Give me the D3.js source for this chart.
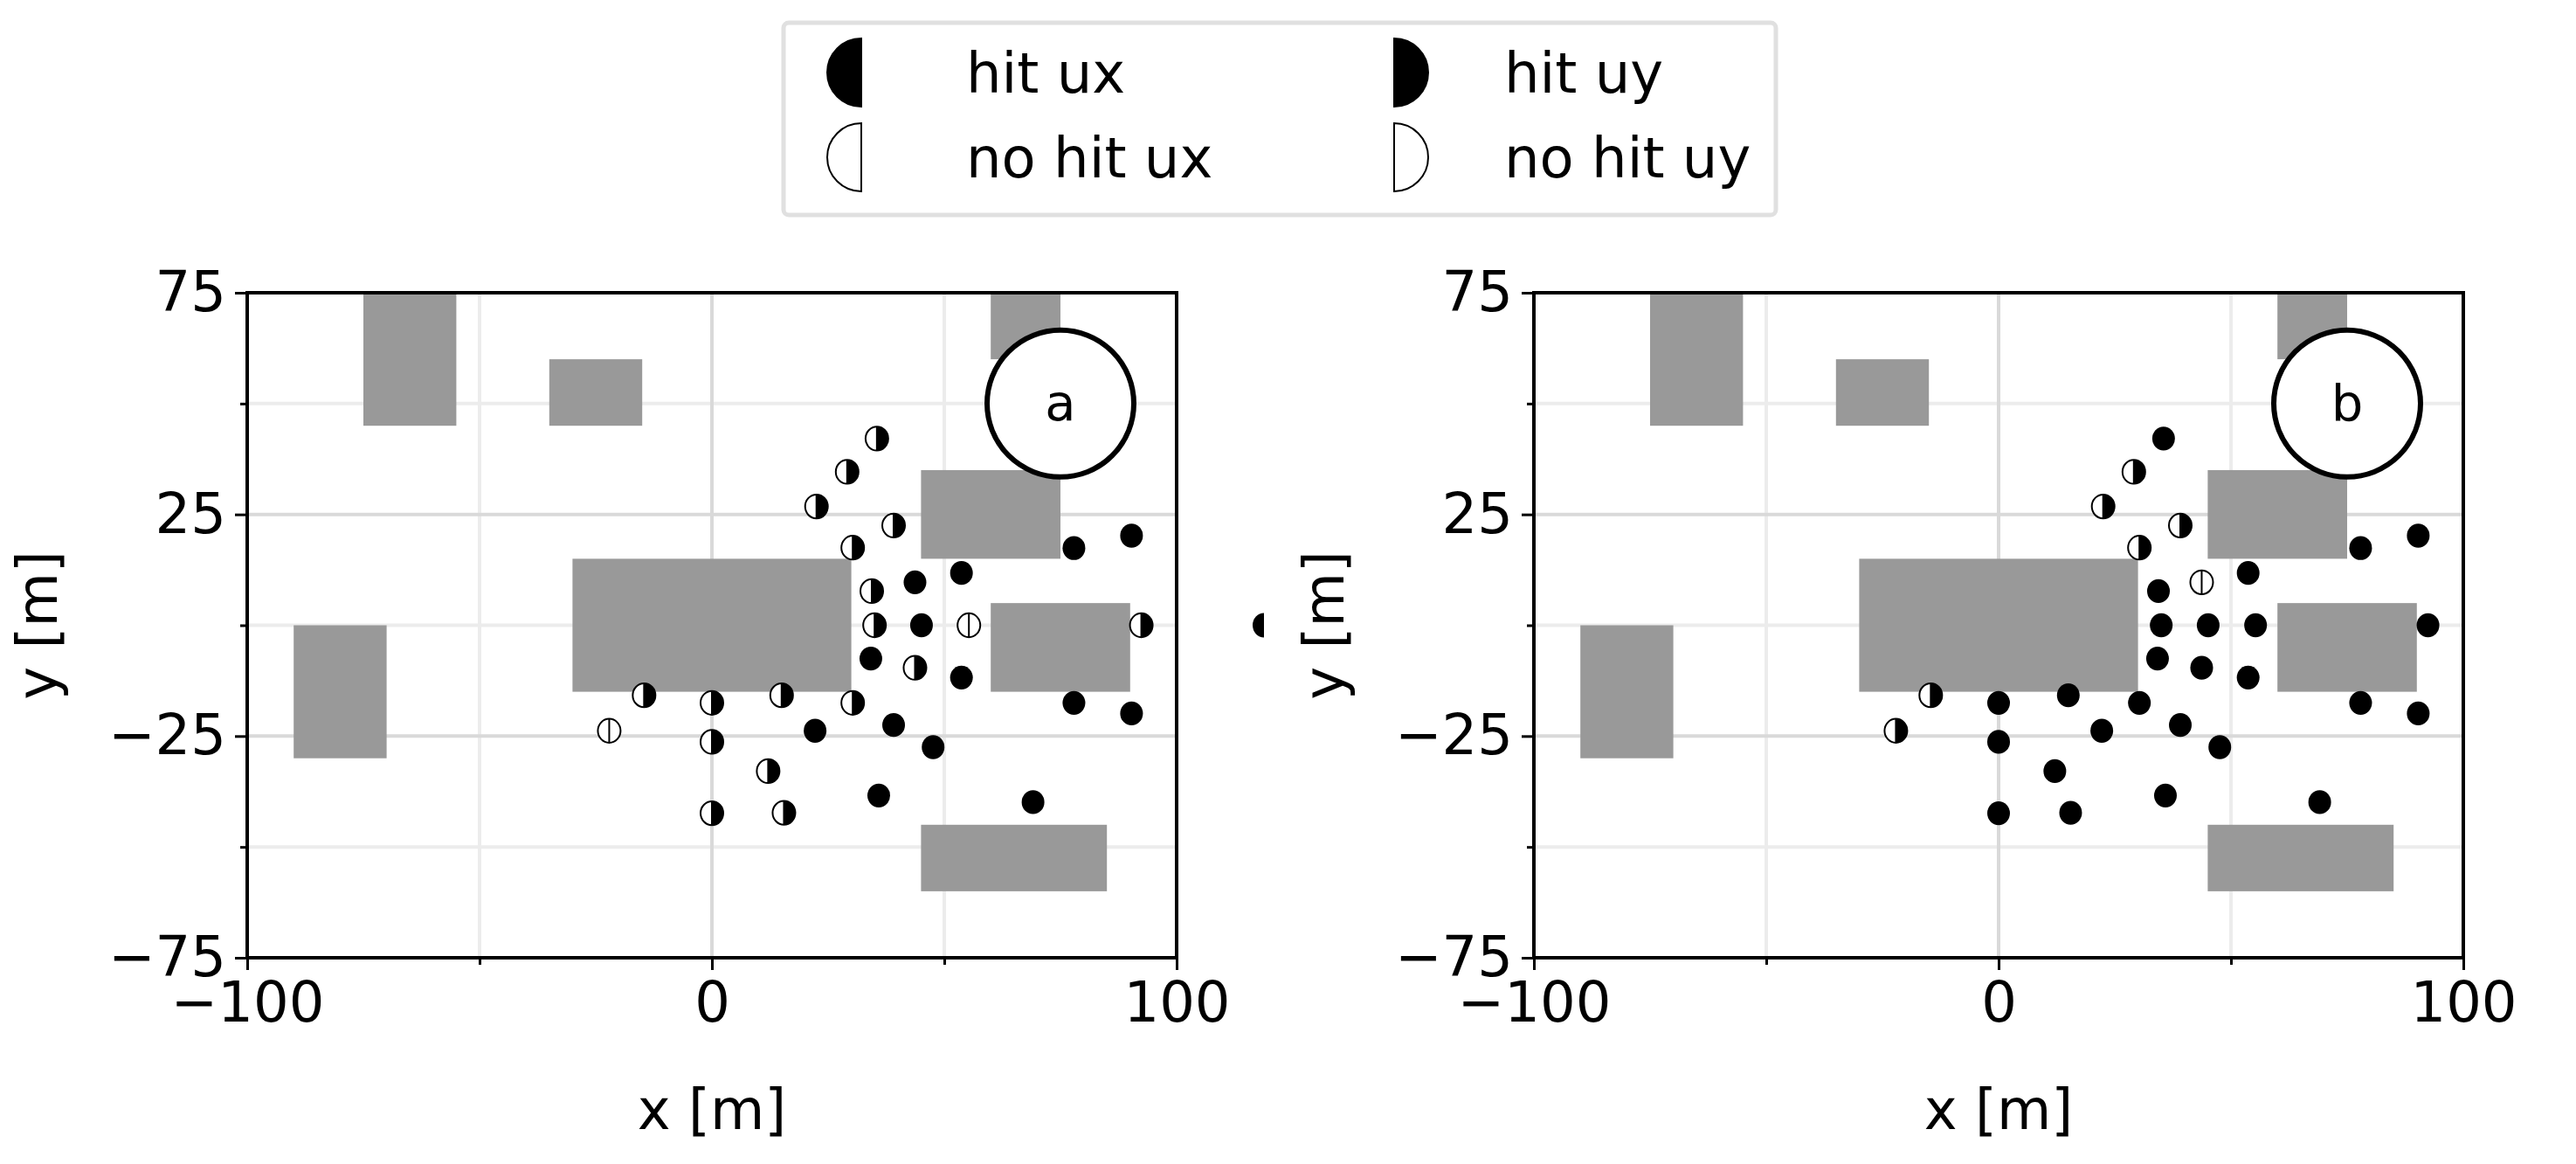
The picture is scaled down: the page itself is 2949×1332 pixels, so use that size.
<!DOCTYPE html>
<html>
<head>
<meta charset="utf-8">
<script src="https://cdn.jsdelivr.net/npm/d3@7"></script>
<style>
  body { margin: 0; background: #fff; }
  text { font-family: "DejaVu Sans", sans-serif; }
</style>
</head>
<body>
<svg id="svg" width="2949" height="1332"></svg>
<script>
// buildings [x0, x1, y0, y1] in metres
var buildings = [
  [-75, -55, 45, 75], [-35, -15, 45, 60], [60, 75, 60, 75], [45, 75, 15, 35],
  [-30, 30, -15, 15], [60, 90, -15, 5], [-90, -70, -30, 0], [45, 85, -60, -45]
];
// sensor positions
var px = [35.5, 29.1, 22.5, 39.1, 30.3, 53.7, 43.7, 34.4, 77.9, 90.3, 35, 45.1, 55.3, 92.4,
          34.2, 43.7, 53.7, -14.6, 0, 15, 30.3, 77.9, 90.3, -22.1, 22.2, 39.1, 0, 47.6, 12.1,
          35.9, 69.1, 0, 15.5];
var py = [42.1, 34.6, 26.8, 22.5, 17.5, 11.8, 9.7, 7.7, 17.4, 20.2, 0, 0, 0, 0,
          -7.5, -9.6, -11.8, -15.8, -17.5, -15.8, -17.5, -17.5, -19.9, -23.8, -23.8, -22.5,
          -26.3, -27.5, -32.9, -38.4, -39.9, -42.4, -42.3];
// hit status: "b" both, "y" uy only, "x" ux only, "n" none
var statusA = ["y","y","y","y","y","b","b","y","b","b","y","b","n","y",
               "b","y","b","y","y","y","y","b","b","n","b","b","y","b","y","b","b","y","y"];
var statusB = ["b","y","y","y","y","b","n","b","b","b","b","b","b","b",
               "b","b","b","y","b","b","b","b","b","y","b","b","b","b","b","b","b","b","b"];
var extraX = [118.8], extraY = [0];
var legendLabels = ["hit ux", "hit uy", "no hit ux", "no hit uy"];
var xTicks = [-100, 0, 100], xMinor = [-50, 50];
var yTicks = [75, 25, -25, -75], yMinor = [50, 0, -50];

var svg = d3.select("#svg");
var FS = 64;

function halfPath(cx, cy, r, ry, sweep) {
  return "M" + cx + "," + (cy - ry) + " A" + r + "," + ry + " 0 0 " + sweep + " " + cx + "," + (cy + ry) + " Z";
}

function marker(g, cx, cy, r, s) {
  var ry = r * 1.05;
  if (s === "b") {
    g.append("ellipse").attr("cx", cx).attr("cy", cy).attr("rx", r).attr("ry", ry).attr("fill", "#000");
    return;
  }
  g.append("ellipse").attr("cx", cx).attr("cy", cy).attr("rx", r).attr("ry", ry)
    .attr("fill", "#fff").attr("stroke", "#000").attr("stroke-width", 2);
  if (s === "y") g.append("path").attr("d", halfPath(cx, cy, r, ry, 1)).attr("fill", "#000");
  if (s === "x") g.append("path").attr("d", halfPath(cx, cy, r, ry, 0)).attr("fill", "#000");
  g.append("line").attr("x1", cx).attr("x2", cx).attr("y1", cy - ry).attr("y2", cy + ry)
    .attr("stroke", "#000").attr("stroke-width", 2);
}

function fmt(d) { return d < 0 ? "\u2212" + (-d) : d; }

function panel(x0, label, status, id) {
  var x = d3.scaleLinear().domain([-100, 100]).range([x0, x0 + 1064]);
  var y = d3.scaleLinear().domain([-75, 75]).range([1096, 335]);
  var g = svg.append("g");
  g.append("clipPath").attr("id", id).append("rect")
    .attr("x", x(-100)).attr("y", y(75)).attr("width", x(100) - x(-100)).attr("height", y(-75) - y(75));
  var c = g.append("g").attr("clip-path", "url(#" + id + ")");
  // grid
  xMinor.forEach(v => c.append("line").attr("x1", x(v)).attr("x2", x(v)).attr("y1", y(75)).attr("y2", y(-75))
    .attr("stroke", "#ececec").attr("stroke-width", 4));
  yMinor.forEach(v => c.append("line").attr("y1", y(v)).attr("y2", y(v)).attr("x1", x(-100)).attr("x2", x(100))
    .attr("stroke", "#ececec").attr("stroke-width", 4));
  c.append("line").attr("x1", x(0)).attr("x2", x(0)).attr("y1", y(75)).attr("y2", y(-75))
    .attr("stroke", "#d9d9d9").attr("stroke-width", 4);
  [25, -25].forEach(v => c.append("line").attr("y1", y(v)).attr("y2", y(v)).attr("x1", x(-100)).attr("x2", x(100))
    .attr("stroke", "#d9d9d9").attr("stroke-width", 4));
  // buildings
  c.selectAll(".bld").data(buildings).enter().append("rect")
    .attr("x", d => x(d[0])).attr("width", d => x(d[1]) - x(d[0]))
    .attr("y", d => y(d[3])).attr("height", d => y(d[2]) - y(d[3]))
    .attr("fill", "#999999");
  // axes
  g.append("g").attr("transform", "translate(0," + y(-75) + ")")
    .call(d3.axisBottom(x).tickValues(xTicks).tickFormat(fmt).tickSize(14).tickPadding(14));
  g.append("g").attr("transform", "translate(0," + y(-75) + ")")
    .call(d3.axisBottom(x).tickValues(xMinor).tickFormat("").tickSize(8));
  g.append("g").attr("transform", "translate(" + x(-100) + ",0)")
    .call(d3.axisLeft(y).tickValues(yTicks).tickFormat(fmt).tickSize(14).tickPadding(10));
  g.append("g").attr("transform", "translate(" + x(-100) + ",0)")
    .call(d3.axisLeft(y).tickValues(yMinor).tickFormat("").tickSize(8));
  g.selectAll(".domain").remove();
  g.selectAll(".tick line").attr("stroke-width", 3);
  g.selectAll(".tick text").attr("font-size", FS).attr("font-family", "DejaVu Sans");
  g.append("rect").attr("x", x(-100)).attr("y", y(75)).attr("width", x(100) - x(-100)).attr("height", y(-75) - y(75))
    .attr("fill", "none").attr("stroke", "#000").attr("stroke-width", 4);
  // points
  px.forEach((v, i) => marker(g, x(v), y(py[i]), 13, status[i]));
  // panel tag
  g.append("circle").attr("cx", x(75)).attr("cy", y(50)).attr("r", 84)
    .attr("fill", "#fff").attr("stroke", "#000").attr("stroke-width", 6);
  g.append("text").attr("x", x(75)).attr("y", y(50) + 19).attr("text-anchor", "middle")
    .attr("font-size", FS * 0.9).text(label);
  g.append("text").attr("x", (x(-100) + x(100)) / 2).attr("y", 1292).attr("text-anchor", "middle")
    .attr("font-size", FS).text("x [m]");
  g.append("text").attr("transform", "translate(" + (x0 - 218) + "," + y(0) + ") rotate(-90)")
    .attr("text-anchor", "middle").attr("font-size", FS).text("y [m]");
  return {x: x, y: y, g: g};
}

var pa = panel(283, "a", statusA, "clipA");
// stray marker outside panel a: only its filled left half shows
extraX.forEach((v, i) => pa.g.append("path")
  .attr("d", halfPath(pa.x(v), pa.y(extraY[i]), 13, 14, 0)).attr("fill", "#000"));
panel(1756, "b", statusB, "clipB");

// legend
var lg = svg.append("g");
lg.append("rect").attr("x", 897).attr("y", 26).attr("width", 1136).attr("height", 220).attr("rx", 6)
  .attr("fill", "#fff").attr("stroke", "#e0e0e0").attr("stroke-width", 5);
var lx = [986, 1596], tx = [1106, 1722], ly = [83, 180];
legendLabels.forEach(function(d, i) {
  var col = i % 2, row = Math.floor(i / 2);
  var cx = lx[col], cy = ly[row];
  lg.append("path").attr("d", halfPath(cx, cy, 39, 39, col === 0 ? 0 : 1))
    .attr("fill", row === 0 ? "#000" : "#fff").attr("stroke", "#000").attr("stroke-width", 2);
  lg.append("text").attr("x", tx[col]).attr("y", cy + 23).attr("font-size", FS).text(d);
});
</script>
</body>
</html>
